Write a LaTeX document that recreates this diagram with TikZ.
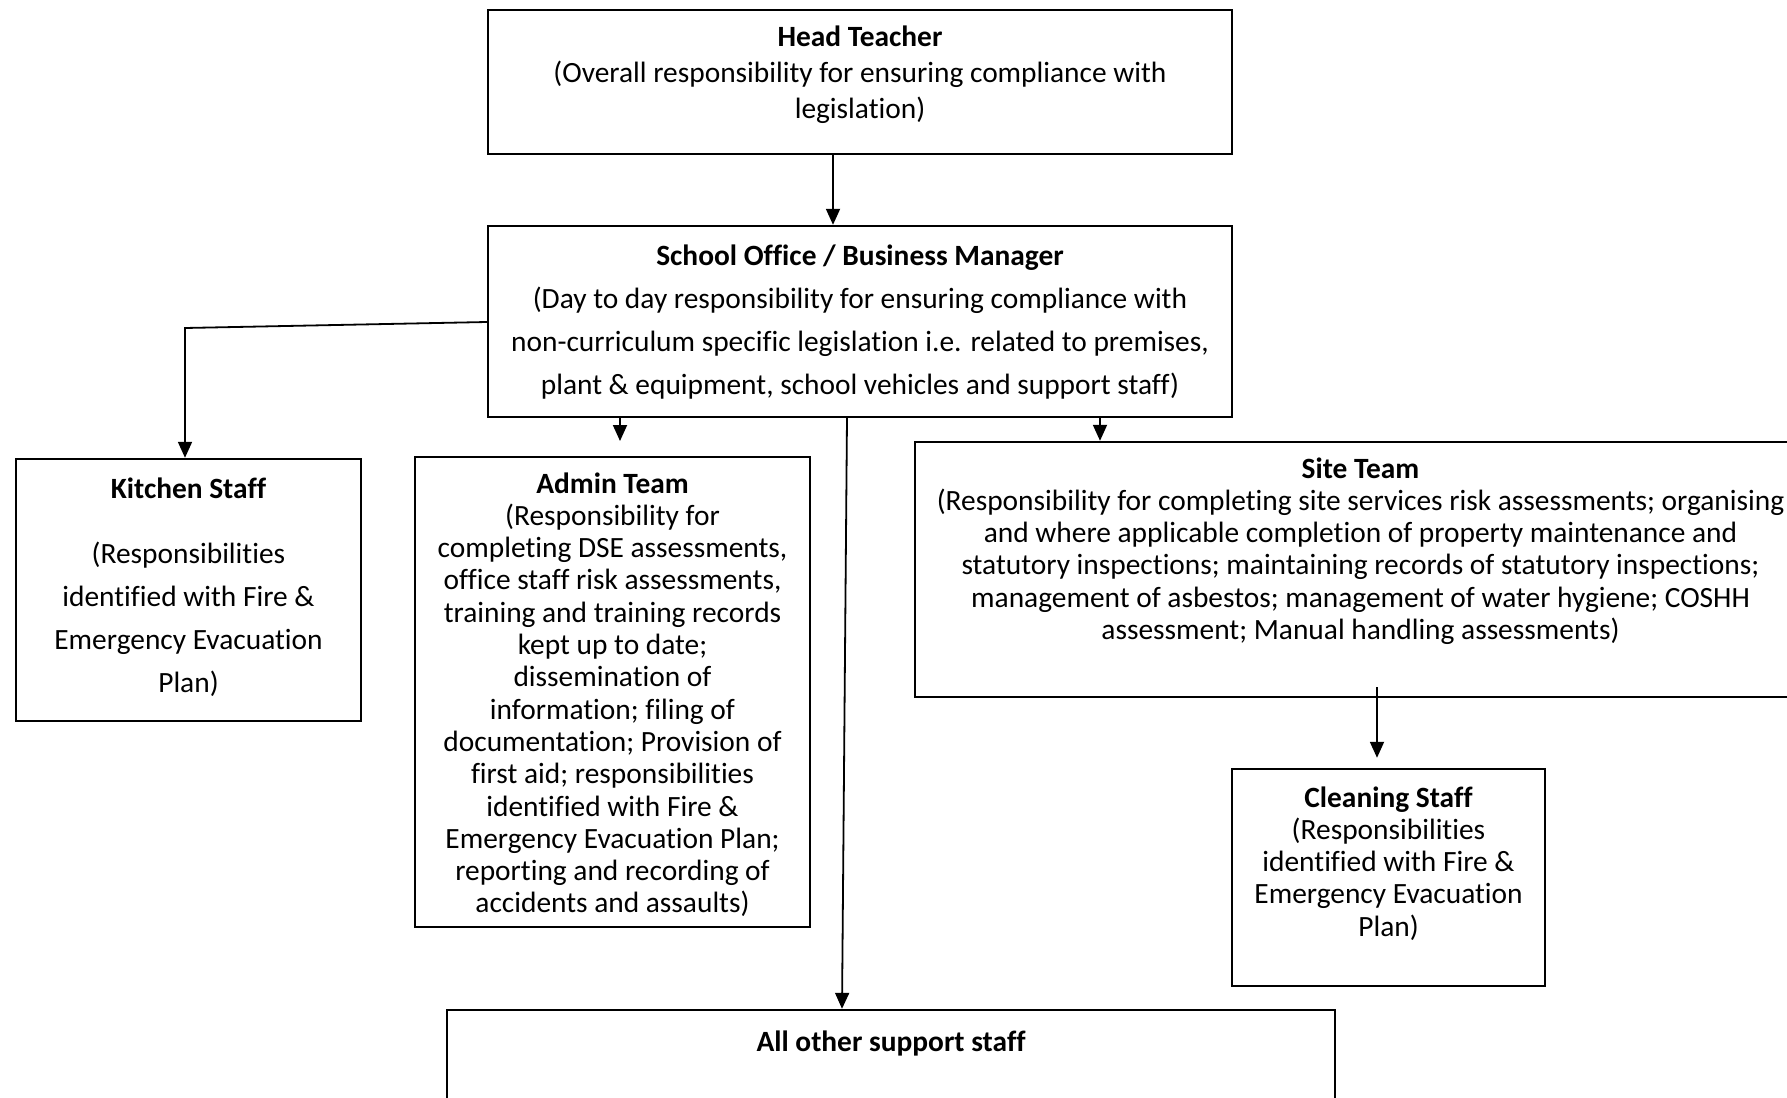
\documentclass[tikz,border=0pt]{standalone}
\usepackage{fontspec}
\setmainfont{Carlito}[Ligatures=NoCommon]
\usetikzlibrary{arrows.meta}
\begin{document}
\begin{tikzpicture}[x=0.5pt,y=-0.5pt,
  box/.style={draw, line width=1.2pt, inner sep=0pt},
  txt/.style={align=center, inner sep=0pt, anchor=north},
  tsmall/.style={txt, font=\fontsize{14.7}{16.15}\selectfont},
  tmid/.style={txt, font=\fontsize{14.7}{18}\selectfont},
  tbig/.style={txt, font=\fontsize{14.7}{21.5}\selectfont},
  conn/.style={line width=0.9pt, -{Triangle[length=8pt,width=7pt]}},
]
\useasboundingbox (0,0) rectangle (1787,1097);
\clip (0,0) rectangle (1787,1097);

% boxes
\node[box, minimum width=372pt, minimum height=72pt] (head) at (860,82) {};
\node[box, minimum width=372pt, minimum height=95.5pt] (office) at (860,321.5) {};
\node[box, minimum width=172.5pt, minimum height=131pt] (kitchen) at (188.5,590) {};
\node[box, minimum width=197.5pt, minimum height=235pt] (admin) at (612.5,692) {};
\node[box, minimum width=445.5pt, minimum height=127.5pt] (site) at (1360.5,569.5) {};
\node[box, minimum width=156.5pt, minimum height=108.5pt] (cleaning) at (1388.5,877.5) {};
\node[box, minimum width=444pt, minimum height=65pt] (other) at (891,1075) {};

% texts
\node[tmid] (head-t) at (860,25) {\textbf{Head Teacher}\\(Overall responsibility for ensuring compliance with\\legislation)};
\node[tbig] (office-t) at (860,244) {\textbf{School Office / Business Manager}\\(Day to day responsibility for ensuring compliance with\\non-curriculum specific legislation i.e. related to premises,\\plant \& equipment, school vehicles and support staff)};
\node[tbig] (kitchen-t) at (188.5,477) {\textbf{Kitchen Staff}\\[11pt](Responsibilities\\identified with Fire \&\\Emergency Evacuation\\Plan)};
\node[tsmall] (admin-t) at (612.5,472) {\textbf{Admin Team}\\(Responsibility for\\completing DSE assessments,\\office staff risk assessments,\\training and training records\\kept up to date;\\dissemination of\\information; filing of\\documentation; Provision of\\first aid; responsibilities\\identified with Fire \&\\Emergency Evacuation Plan;\\reporting and recording of\\accidents and assaults)};
\node[tsmall] (site-t) at (1360.5,457) {\textbf{Site Team}\\(Responsibility for completing site services risk assessments; organising\\and where applicable completion of property maintenance and\\statutory inspections; maintaining records of statutory inspections;\\management of asbestos; management of water hygiene; COSHH\\assessment; Manual handling assessments)};
\node[tsmall] (cleaning-t) at (1388.5,786) {\textbf{Cleaning Staff}\\(Responsibilities\\identified with Fire \&\\Emergency Evacuation\\Plan)};
\node[tsmall] (other-t) at (891,1030) {\textbf{All other support staff}};

% connectors
\draw[conn] (head.south -| 833,0) -- (office.north -| 833,0);
\coordinate (kbend) at (185,328);
\draw[conn] (office.west |- 0,322) -- (kbend) -- (kitchen.north -| kbend);
\coordinate (admintip) at (620,441);
\draw[conn] (office.south -| admintip) -- (admintip);
\draw[conn] (office.south -| 1100,0) -- (site.north -| 1100,0);
\coordinate (otop) at (847,417);
\draw[conn] (otop) -- (other.north -| 842,0);
\coordinate (cstart) at (1377,687);
\draw[conn, shorten >=5pt] (cstart) -- (cleaning.north -| cstart);
\end{tikzpicture}
\end{document}
